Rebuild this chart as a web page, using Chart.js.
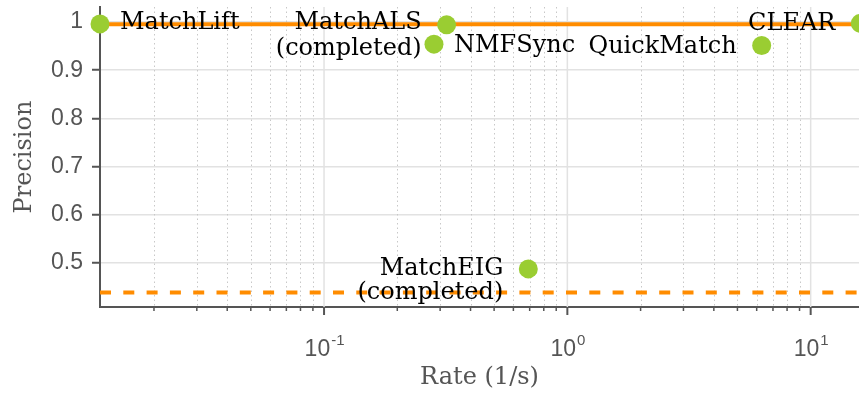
<!DOCTYPE html>
<html>
<head>
<meta charset="utf-8">
<script src="https://cdn.jsdelivr.net/npm/chart.js@4/dist/chart.umd.min.js"></script>
<style>
  html, body { margin: 0; padding: 0; background: #ffffff; }
  canvas { display: block; }
</style>
</head>
<body>
<canvas id="chart" width="859" height="394"></canvas>
<script>
// Methods, their matching rate (1/s) and precision
const methods = ['MatchLift', 'MatchALS\n(completed)', 'NMFSync', 'QuickMatch', 'CLEAR', 'MatchEIG\n(completed)'];
const rates = [0.012, 0.319, 0.283, 6.29, 16.0, 0.691];
const precisions = [0.996, 0.994, 0.954, 0.951, 0.997, 0.488];

// Horizontal reference levels: solid and dashed
const solidLevel = [0.995];
const dashedLevel = [0.439];

// Axis ranges and ticks
const xRange = [0.012, 15.8];
const yRange = [0.409, 1.031];
const yTicks = [0.5, 0.6, 0.7, 0.8, 0.9, 1];
const xDecades = [-1, 0, 1];

const GREEN = '#9acd32';
const ORANGE = '#ff8c00';
const AXIS = '#555555';
const GRID = '#e2e2e2';
const SERIF = '"DejaVu Serif", serif';
const SANS = '"Liberation Sans", Arial, sans-serif';

// Label placement next to each marker (pixels)
const labelPlacement = [
  { align: 'left',  dx: 20,  dy: 5.5, lead: 26 },
  { align: 'right', dx: -25, dy: 4.5, lead: 26 },
  { align: 'left',  dx: 20,  dy: 8,   lead: 26 },
  { align: 'right', dx: -25, dy: 7.5, lead: 26 },
  { align: 'right', dx: -25, dy: 6.5, lead: 26 },
  { align: 'right', dx: -25, dy: 5.7, lead: 24 }
];

// Minor tick values (2..9 x 10^k) inside the x range
function minorTicks(min, max) {
  const out = [];
  for (let k = Math.floor(Math.log10(min)); k <= Math.ceil(Math.log10(max)); k++) {
    for (let m = 2; m <= 9; m++) {
      const v = m * Math.pow(10, k);
      if (v >= min && v <= max) out.push(v);
    }
  }
  return out;
}

function noScalePadding(scale) {
  scale.paddingTop = 0;
  scale.paddingBottom = 0;
  scale.paddingLeft = 0;
  scale.paddingRight = 0;
}

const logAxisDecor = {
  id: 'logAxisDecor',
  beforeDatasetsDraw(chart) {
    const { ctx, chartArea: a, scales: { x } } = chart;
    ctx.save();
    // minor grid (dotted)
    ctx.strokeStyle = '#c8c8c8';
    ctx.lineWidth = 1;
    ctx.setLineDash([1.5, 3]);
    minorTicks(xRange[0], xRange[1]).forEach(v => {
      const px = Math.round(x.getPixelForValue(v)) + 0.5;
      ctx.beginPath(); ctx.moveTo(px, a.top); ctx.lineTo(px, a.bottom); ctx.stroke();
    });
    // major grid (solid)
    ctx.setLineDash([]);
    ctx.strokeStyle = GRID;
    ctx.lineWidth = 1.5;
    xDecades.forEach(d => {
      const px = x.getPixelForValue(Math.pow(10, d));
      ctx.beginPath(); ctx.moveTo(px, a.top); ctx.lineTo(px, a.bottom); ctx.stroke();
    });
    // tick marks
    ctx.strokeStyle = AXIS;
    ctx.lineWidth = 1.5;
    minorTicks(xRange[0], xRange[1]).forEach(v => {
      const px = x.getPixelForValue(v);
      ctx.beginPath(); ctx.moveTo(px, a.bottom); ctx.lineTo(px, a.bottom + 4); ctx.stroke();
    });
    ctx.lineWidth = 2;
    xDecades.forEach(d => {
      const px = x.getPixelForValue(Math.pow(10, d));
      ctx.beginPath(); ctx.moveTo(px, a.bottom); ctx.lineTo(px, a.bottom + 8); ctx.stroke();
    });
    // decade labels 10^k
    ctx.fillStyle = AXIS;
    ctx.textBaseline = 'alphabetic';
    ctx.textAlign = 'left';
    xDecades.forEach(d => {
      const px = x.getPixelForValue(Math.pow(10, d));
      ctx.font = '23px ' + SANS;
      const base = '10';
      const wb = ctx.measureText(base).width;
      ctx.font = '15px ' + SANS;
      const exp = String(d);
      const we = ctx.measureText(exp).width;
      const left = px - (wb + we) / 2;
      ctx.font = '23px ' + SANS;
      ctx.fillText(base, left, a.bottom + 49);
      ctx.font = '15px ' + SANS;
      ctx.fillText(exp, left + wb + 1, a.bottom + 38);
    });
    ctx.restore();
  }
};

const methodLabels = {
  id: 'methodLabels',
  afterDatasetsDraw(chart) {
    const { ctx, scales: { x, y } } = chart;
    ctx.save();
    ctx.fillStyle = '#000000';
    ctx.font = '24px ' + SERIF;
    ctx.textBaseline = 'alphabetic';
    methods.forEach((name, i) => {
      const p = labelPlacement[i];
      const px = x.getPixelForValue(rates[i]);
      const py = y.getPixelForValue(precisions[i]);
      ctx.textAlign = p.align;
      name.split('\n').forEach((line, j) => {
        ctx.fillText(line, px + p.dx, py + p.dy + j * p.lead);
      });
    });
    ctx.restore();
  }
};

const levelLine = (level, dash) => ({
  type: 'line',
  data: [{ x: xRange[0], y: level }, { x: xRange[1], y: level }],
  borderColor: ORANGE,
  borderWidth: 4,
  borderDash: dash,
  borderCapStyle: 'butt',
  pointRadius: 0,
  fill: false,
  order: 2
});

new Chart(document.getElementById('chart'), {
  type: 'scatter',
  data: {
    datasets: [
      {
        data: rates.map((r, i) => ({ x: r, y: precisions[i] })),
        backgroundColor: GREEN,
        borderWidth: 0,
        pointRadius: 9.5,
        clip: false,
        order: 0
      },
      levelLine(solidLevel[0], []),
      levelLine(dashedLevel[0], [11, 12.3])
    ]
  },
  options: {
    responsive: false,
    animation: false,
    events: [],
    layout: { autoPadding: false, padding: { top: 7, right: 0, left: 0, bottom: 0 } },
    plugins: { legend: { display: false }, tooltip: { enabled: false } },
    scales: {
      x: {
        type: 'logarithmic',
        min: xRange[0],
        max: xRange[1],
        afterBuildTicks(scale) {
          scale.ticks = xDecades.map(d => ({ value: Math.pow(10, d) }));
        },
        afterFit(scale) { scale.height = 87; noScalePadding(scale); },
        grid: { display: false },
        border: { display: true, color: AXIS, width: 2 },
        ticks: { display: false },
        title: {
          display: true,
          text: 'Rate (1/s)',
          color: AXIS,
          font: { family: SERIF, size: 24 },
          padding: { top: 0, bottom: 2 }
        }
      },
      y: {
        type: 'linear',
        min: yRange[0],
        max: yRange[1],
        afterBuildTicks(scale) {
          scale.ticks = yTicks.map(v => ({ value: v }));
        },
        afterFit(scale) { scale.width = 100; noScalePadding(scale); },
        grid: { color: GRID, lineWidth: 1.5, tickColor: AXIS, tickLength: 8, tickWidth: 2 },
        border: { display: true, color: AXIS, width: 2 },
        ticks: {
          color: AXIS,
          font: { family: SANS, size: 23 },
          padding: 9,
          callback: v => (v === 1 ? '1' : v.toFixed(1))
        },
        title: {
          display: true,
          text: 'Precision',
          color: AXIS,
          font: { family: SERIF, size: 24 },
          padding: { top: 10, bottom: 0 }
        }
      }
    }
  },
  plugins: [logAxisDecor, methodLabels]
});
</script>
</body>
</html>
